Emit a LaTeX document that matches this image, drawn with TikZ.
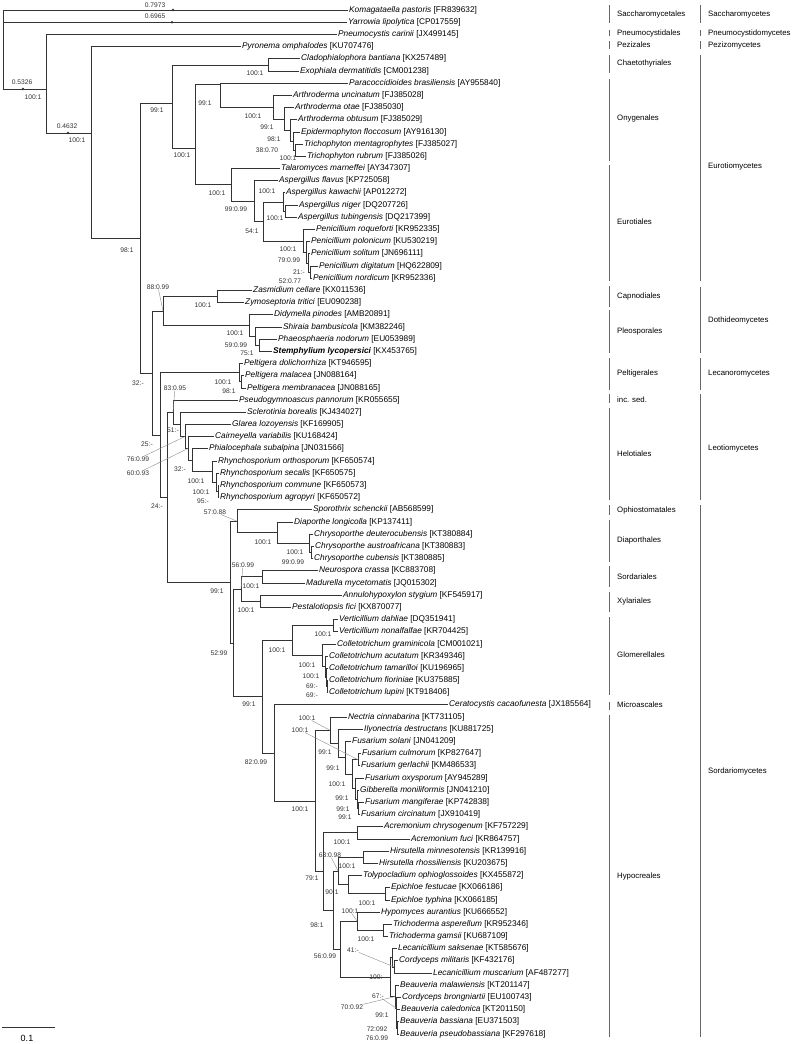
\documentclass[tikz,border=0pt]{standalone}
\usepackage{fontspec}
\setmainfont{Liberation Sans}
\begin{document}
\begin{tikzpicture}[x=1pt,y=-1pt,
  br/.style={draw=black!80,line width=0.75pt},
  lead/.style={draw=black!45,line width=0.4pt},
  bar/.style={draw=black!60,line width=0.9pt},
  taxon/.style={anchor=west,inner sep=1pt,font=\fontsize{8.3}{9}\selectfont},
  bs/.style={inner sep=0pt,text=black!80,font=\fontsize{6.7}{7}\selectfont},
  clade/.style={anchor=west,inner sep=0pt,font=\fontsize{7.8}{9}\selectfont}]
\useasboundingbox (0,0) rectangle (797,1044);

% taxa
\foreach \i/\x/\nm/\acc in {
 1/348/Komagataella pastoris/FR839632, 2/347/Yarrowia lipolytica/CP017559,
 3/337/Pneumocystis carinii/JX499145, 4/241/Pyronema omphalodes/KU707476,
 5/300/Cladophialophora bantiana/KX257489, 6/299/Exophiala dermatitidis/CM001238,
 7/348/Paracoccidioides brasiliensis/AY955840, 8/292/Arthroderma uncinatum/FJ385028,
 9/294/Arthroderma otae/FJ385030, 10/297/Arthroderma obtusum/FJ385029,
 11/300/Epidermophyton floccosum/AY916130, 12/303/Trichophyton mentagrophytes/FJ385027,
 13/306/Trichophyton rubrum/FJ385026, 14/280/Talaromyces marneffei/AY347307,
 15/278/Aspergillus flavus/KP725058, 16/285/Aspergillus kawachii/AP012272,
 17/298/Aspergillus niger/DQ207726, 18/297/Aspergillus tubingensis/DQ217399,
 19/315/Penicillium roqueforti/KR952335, 20/310/Penicillium polonicum/KU530219,
 21/310/Penicillium solitum/JN696111, 22/318/Penicillium digitatum/HQ622809,
 23/312/Penicillium nordicum/KR952336, 24/252/Zasmidium cellare/KX011536,
 25/244/Zymoseptoria tritici/EU090238, 26/273/Didymella pinodes/AMB20891,
 27/282/Shiraia bambusicola/KM382246, 28/277/Phaeosphaeria nodorum/EU053989,
 30/243/Peltigera dolichorrhiza/KT946595, 31/244/Peltigera malacea/JN088164,
 32/246/Peltigera membranacea/JN088165, 33/238/Pseudogymnoascus pannorum/KR055655,
 34/246/Sclerotinia borealis/KJ434027, 35/231/Glarea lozoyensis/KF169905,
 36/214/Cairneyella variabilis/KU168424, 37/208/Phialocephala subalpina/JN031566,
 38/217/Rhynchosporium orthosporum/KF650574, 39/219/Rhynchosporium secalis/KF650575,
 40/219/Rhynchosporium commune/KF650573, 41/219/Rhynchosporium agropyri/KF650572,
 42/312/Sporothrix schenckii/AB568599, 43/293/Diaporthe longicolla/KP137411,
 44/313/Chrysoporthe deuterocubensis/KT380884, 45/314/Chrysoporthe austroafricana/KT380883,
 46/313/Chrysoporthe cubensis/KT380885, 47/318/Neurospora crassa/KC883708,
 48/305/Madurella mycetomatis/JQ015302, 49/342/Annulohypoxylon stygium/KF545917,
 50/291/Pestalotiopsis fici/KX870077, 51/338/Verticillium dahliae/DQ351941,
 52/338/Verticillium nonalfalfae/KR704425, 53/336/Colletotrichum graminicola/CM001021,
 54/328/Colletotrichum acutatum/KR349346, 55/328/Colletotrichum tamarilloi/KU196965,
 56/328/Colletotrichum fioriniae/KU375885, 57/328/Colletotrichum lupini/KT918406,
 58/448/Ceratocystis cacaofunesta/JX185564, 59/347/Nectria cinnabarina/KT731105,
 60/363/Ilyonectria destructans/KU881725, 61/351/Fusarium solani/JN041209,
 62/361/Fusarium culmorum/KP827647, 63/360/Fusarium gerlachii/KM486533,
 64/364/Fusarium oxysporum/AY945289, 65/359/Gibberella moniliformis/JN041210,
 66/364/Fusarium mangiferae/KP742838, 67/360/Fusarium circinatum/JX910419,
 68/383/Acremonium chrysogenum/KF757229, 69/410/Acremonium fuci/KR864757,
 70/389/Hirsutella minnesotensis/KR139916, 71/378/Hirsutella rhossiliensis/KU203675,
 72/362/Tolypocladium ophioglossoides/KX455872, 73/390/Epichloe festucae/KX066186,
 74/390/Epichloe typhina/KX066185, 75/380/Hypomyces aurantius/KU666552,
 76/392/Trichoderma asperellum/KR952346, 77/388/Trichoderma gamsii/KU687109,
 78/397/Lecanicillium saksenae/KT585676, 79/398/Cordyceps militaris/KF432176,
 80/432/Lecanicillium muscarium/AF487277, 81/399/Beauveria malawiensis/KT201147,
 82/401/Cordyceps brongniartii/EU100743, 83/400/Beauveria caledonica/KT201150,
 84/399/Beauveria bassiana/EU371503, 85/399/Beauveria pseudobassiana/KF297618}
{
  \node[taxon] (t\i) at (\x,{10+(\i-1)*12.19}) {\textit{\nm} [\acc]};
}
\node[taxon] (t29) at (272,{10+28*12.19}) {\textbf{\textit{Stemphylium lycopersici}} [KX453765]};

% internal nodes
\foreach \n/\x/\y in {
 rt/3/10, nA/46/89, nB/91/133, nC/140/238, nD/172/103, nCE/268/64.9,
 nE/195/148, nO1/220/84, nO2/273/107.2, nO3/284/119, nO4/290/130.4,
 nO5/293/141, nO6/295/150.2, nN231/231/184.8, nN254/254/201.1,
 nN263/263/221.5, nAS/283/202, nAT/285/211.1, nP1/303/240.9, nP2/306/252.3,
 nP3/308/263, nP4/310/272.1, nF/152/373, nDO/163/311, nCA/217/296.5,
 nPL1/249/325.4, nPL2/255/336.1, nPL3/259/345.2, nG/160/434.9, nPE/239/372.7,
 nPM/241/381.8, nH/167/497.1, nI/173/412.2, nJ/180/424.4, nK/185/436.5,
 nL/188/448.5, nM/192/460.3, nR1/212/471.7, nR2/216/482.4, nR3/218/491.5,
 nS/230/582, nOD/237/521.2, nDP/277/532.6, nCH/309/543.3, nCH2/311/552.5,
 nT/233/642.9, nSX/241/589, nSO/262/576.8, nXY/260/601.2, nU/262/696.7,
 nGL/292/640.5, nVN/333/625.6, nC1/322/655.3, nC2/325/666.7, nC3/326/677.4,
 nC4/327/686.5, nV/274/752.9, nW/315/800.9, nFN/330/730.3, nIF/338/743.5,
 nF0/345/757.7, nCG/358/759.7, nF1/352/774, nF2/355/788.5, nF3/357/799,
 nF4/358/808.5, nX/323/871.5, nAC/357/832.8, nY/333/910, nHTE/338/870.9,
 nHn/363/857.2, nTE/348/884.6, nEp/385/893.8, nHR/340/949, nHT/357/921,
 nTn/383/930.3, nLB/390/977.2, nLS/392/957.8, nCM/394/966.9, nB2/395/996.6,
 nB3/396/1008, nB4/396/1018.7, nB5/397/1027.9}
{
  \coordinate (\n) at (\x,\y);
}

% branches
\foreach \c/\p in {
 t1.west/rt, t2.west/rt, nA/rt, t3.west/nA, nB/nA, t4.west/nB, nC/nB,
 nD/nC, nF/nC, nCE/nD, nE/nD, t5.west/nCE, t6.west/nCE, nO1/nE, nN231/nE,
 t7.west/nO1, nO2/nO1, t8.west/nO2, nO3/nO2, t9.west/nO3, nO4/nO3,
 t10.west/nO4, nO5/nO4, t11.west/nO5, nO6/nO5, t12.west/nO6, t13.west/nO6,
 t14.west/nN231, nN254/nN231, t15.west/nN254, nN263/nN254, nAS/nN263, nP1/nN263,
 t16.west/nAS, nAT/nAS, t17.west/nAT, t18.west/nAT, t19.west/nP1, nP2/nP1,
 t20.west/nP2, nP3/nP2, t21.west/nP3, nP4/nP3, t22.west/nP4, t23.west/nP4,
 nDO/nF, nG/nF, nCA/nDO, nPL1/nDO, t24.west/nCA, t25.west/nCA,
 t26.west/nPL1, nPL2/nPL1, t27.west/nPL2, nPL3/nPL2, t28.west/nPL3, t29.west/nPL3,
 nPE/nG, nH/nG, t30.west/nPE, nPM/nPE, t31.west/nPM, t32.west/nPM,
 nI/nH, nS/nH, t33.west/nI, nJ/nI, t34.west/nJ, nK/nJ, t35.west/nK, nL/nK,
 t36.west/nL, nM/nL, t37.west/nM, nR1/nM, t38.west/nR1, nR2/nR1,
 t39.west/nR2, nR3/nR2, t40.west/nR3, t41.west/nR3,
 nOD/nS, nT/nS, t42.west/nOD, nDP/nOD, t43.west/nDP, nCH/nDP,
 t44.west/nCH, nCH2/nCH, t45.west/nCH2, t46.west/nCH2,
 nSX/nT, nU/nT, nSO/nSX, nXY/nSX, t47.west/nSO, t48.west/nSO,
 t49.west/nXY, t50.west/nXY, nGL/nU, nV/nU, nVN/nGL, nC1/nGL,
 t51.west/nVN, t52.west/nVN, t53.west/nC1, nC2/nC1, t54.west/nC2, nC3/nC2,
 t55.west/nC3, nC4/nC3, t56.west/nC4, t57.west/nC4,
 t58.west/nV, nW/nV, nFN/nW, nX/nW, t59.west/nFN, nIF/nFN,
 t60.west/nIF, nF0/nIF, t61.west/nF0, nF1/nF0, nCG/nF1, nF2/nF1,
 t62.west/nCG, t63.west/nCG, t64.west/nF2, nF3/nF2, t65.west/nF3, nF4/nF3,
 t66.west/nF4, t67.west/nF4, nAC/nX, nY/nX, t68.west/nAC, t69.west/nAC,
 nHTE/nY, nHR/nY, nHn/nHTE, nTE/nHTE, t70.west/nHn, t71.west/nHn,
 t72.west/nTE, nEp/nTE, t73.west/nEp, t74.west/nEp,
 nHT/nHR, nLB/nHR, t75.west/nHT, nTn/nHT, t76.west/nTn, t77.west/nTn,
 nLS/nLB, nB2/nLB, t78.west/nLS, nCM/nLS, t79.west/nCM, t80.west/nCM,
 t81.west/nB2, nB3/nB2, t82.west/nB3, nB4/nB3, t83.west/nB4, nB5/nB4,
 t84.west/nB5, t85.west/nB5}
{
  \draw[br] (\c) -| (\p);
}

% marks on the long branches
\fill[black!80] (173,10) circle (1.4) (172,22.19) circle (1.4)
  (23,89) circle (1.4) (68,133) circle (1.4);

% support values
\foreach \n/\x/\y/\v in {
 1/155/5/0.7973, 2/155/16/0.6965, 3/22/82/0.5326, 4/33/97/100:1,
 5/67/126/0.4632, 6/77/140/100:1, 7/255/73/100:1, 8/157/110/99:1,
 9/205/103/99:1, 10/253/116/100:1, 11/267/127/99:1, 12/274/139/98:1,
 13/267/150/38:0.70, 14/288/158/100:1, 15/182/155/100:1, 16/217/193/100:1,
 17/267/191/100:1, 18/236/209/99:0.99, 19/275/218/100:1, 20/252/231/54:1,
 21/127/250/98:1, 22/288/249/100:1, 23/289/260/79:0.99, 24/299/272/21:-,
 25/290/281/52:0.77, 26/158/287/88:0.99, 27/203/305/100:1, 28/235/333/100:1,
 29/236/345/59:0.99, 30/247/353/75:1, 31/138/383/32:-, 32/175/388/83:0.95,
 33/223/382/100:1, 34/229/391/98:1, 35/173/430/51:-, 36/147/444/25:-,
 37/138/459/76:0.99, 38/138/473/60:0.93, 39/180/469/32:-, 40/196/481/100:1,
 41/201/492/100:1, 42/203/501/95:-, 43/157/506/24:-, 44/215/512/57:0.88,
 45/263/542/100:1, 46/295/552/100:1, 47/293/562/99:0.99, 48/243/565/56:0.99,
 49/251/586/100:1, 50/217/591/99:1, 51/246/610/100:1, 52/323/634/100:1,
 53/277/650/100:1, 54/219/653/52:99, 55/307/665/100:1, 56/311/676/100:1,
 57/312/686/69:-, 58/312/695/69:-, 59/249/704/99:1, 60/307/718/100:1,
 61/300/730/100:1, 62/325/752/99:1, 63/256/762/82:0.99, 64/333/768/99:1,
 65/337/784/100:1, 66/342/798/99:1, 67/343/809/99:1, 68/345/817/99:1,
 69/300/809/100:1, 70/342/842/100:1, 71/330/855/63:0.98, 72/347/866/100:1,
 73/312/878/79:1, 74/332/892/90:1, 75/367/903/100:1, 76/350/911/100:1,
 77/317/925/98:1, 78/366/939/100:1, 79/325/956/56:0.99, 80/353/950/41:-,
 81/377/977/100:-, 82/378/996/67:-, 83/352/1007/70:0.92, 84/382/1015/99:1,
 85/377/1029/72:092, 86/377/1038/76:0.99}
{
  \node[bs] (s\n) at (\x,\y) {\v};
}

% leader lines
\foreach \s/\p in {26/nDO, 32/nI, 37/nK, 38/nL, 44/nOD, 48/nSX, 60/nFN,
 61/nCG, 71/nHTE, 76/nHT, 80/nCM, 82/nB3, 83/nB2}
{
  \draw[lead] (s\s) -- (\p);
}

% orders and classes
\foreach \n/\y/\a/\b/\t in {
 1/14/5/23/Saccharomycetales, 2/33/30/36/Pneumocystidales, 3/45/41/49/Pezizales,
 4/63/55/73/Chaetothyriales, 5/118/79/161/Onygenales, 6/222/165/281/Eurotiales,
 7/296/286/307/Capnodiales, 8/331/310/353/Pleosporales, 9/373/358/390/Peltigerales,
 10/400/394/403/inc. sed., 11/454/408/500/Helotiales, 12/510/505/515/Ophiostomatales,
 13/540/520/562/Diaporthales, 14/577/566/587/Sordariales, 15/601/592/612/Xylariales,
 16/655/617/695/Glomerellales, 17/705/702/710/Microascales, 18/876/715/1037/Hypocreales}
{
  \draw[bar] (609,\a) -- (609,\b);
  \node[clade] (o\n) at (617,\y) {\t};
}
\foreach \n/\y/\a/\b/\t in {
 1/14/5/23/Saccharomycetes, 2/33/30/36/Pneumocystidomycetes, 3/45/41/49/Pezizomycetes,
 4/166/55/281/Eurotiomycetes, 5/320/287/353/Dothideomycetes, 6/374/358/390/Lecanoromycetes,
 7/448/394/500/Leotiomycetes, 8/771/505/1037/Sordariomycetes}
{
  \draw[bar] (700,\a) -- (700,\b);
  \node[clade] (c\n) at (708,\y) {\t};
}

% scale bar
\draw[br] (2,1027) -- (55,1027);
\node[font=\fontsize{9}{10}\selectfont] (scale) at (27,1038) {0.1};
\end{tikzpicture}
\end{document}
